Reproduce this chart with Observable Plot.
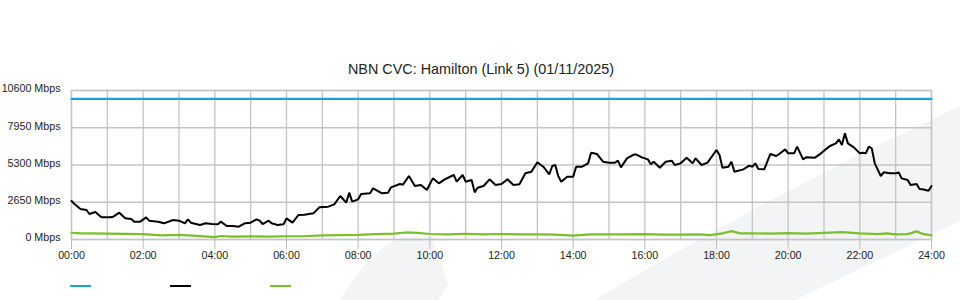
<!DOCTYPE html>
<html>
<head>
<meta charset="utf-8">
<script src="https://cdn.jsdelivr.net/npm/d3@7"></script>
<script src="https://cdn.jsdelivr.net/npm/@observablehq/plot@0.6"></script>
<style>
  html, body { margin: 0; padding: 0; background: #fff; }
  body { width: 960px; height: 300px; position: relative; overflow: hidden; font-family: "Liberation Sans", Arial, sans-serif; }
  #bg { position: absolute; left: 0; top: 0; z-index: 0; }
  #wrap { position: relative; z-index: 1; }
  #title { height: 80px; position: relative; }
  #title span { position: absolute; left: 0; width: 962px; top: 61px; text-align: center; font-size: 14.4px; line-height: 17px; color: #222; }
  #legend { height: 20px; position: relative; }
  #legend .sw { position: absolute; top: 5px; width: 21px; height: 2px; }
</style>
</head>
<body>
<svg id="bg" width="960" height="300" aria-hidden="true">
  <path d="M595,300 Q760,200 960,106 L960,221 L795,300 Z" fill="#f3f4f6"/>
  <path d="M340,300 Q370,250 402,237 L432,236 L448,284 L438,300 Z" fill="#f3f4f6"/>
</svg>
<div id="wrap">
  <div id="title"><span id="titleText"></span></div>
  <div id="chart"></div>
  <div id="legend"></div>
</div>
<script>
const chartTitle = "NBN CVC: Hamilton (Link 5) (01/11/2025)";

// x in minutes since midnight
const xTicks = [0, 120, 240, 360, 480, 600, 720, 840, 960, 1080, 1200, 1320, 1440];
const xTickLabels = ["00:00","02:00","04:00","06:00","08:00","10:00","12:00","14:00","16:00","18:00","20:00","22:00","24:00"];
const hourGrid = [0,60,120,180,240,300,360,420,480,540,600,660,720,780,840,900,960,1020,1080,1140,1200,1260,1320,1380,1440];
const yTicks = [0, 2650, 5300, 7950, 10600];
const yTickLabels = ["0 Mbps", "2650 Mbps", "5300 Mbps", "7950 Mbps", "10600 Mbps"];

const seriesNames = ["", "", ""];
const seriesColors = ["#1ba1e2", "#000000", "#7cbd2b"];

// capacity (blue)
const capacityMinutes = [0, 1440];
const capacityMbps = [10000, 10000];

// traffic (black)
const trafficMinutes = [0,5,15,25,30,40,50,65,70,80,90,100,105,115,125,130,145,155,170,180,190,195,200,215,225,235,245,250,260,270,280,290,300,310,315,320,330,335,345,355,360,370,380,390,405,415,430,440,450,460,465,470,480,485,500,505,520,530,535,550,555,565,575,585,595,605,615,625,640,645,655,660,670,675,680,690,700,
710,720,730,740,750,760,770,780,790,800,805,810,815,820,830,840,845,855,865,870,880,890,900,910,915,920,930,940,945,955,965,970,975,985,995,1005,1010,1020,1030,1040,1045,1055,1065,1080,1085,1090,1100,1105,1110,1125,1135,1140,1145,1150,1160,1170,1180,1185,1195,1200,1210,1215,1225,1230,1245,1255,1265,1270,1280,1285,1290,1295,1300,1310,1320,1325,1330,1335,1340,1345,1355,1360,1370,1380,1385,1390,1400,1405,1415,1420,1425,1435,1440];
const trafficMbps = [2740,2525,2170,2100,1814,1956,1577,1577,1624,1908,1505,1458,1268,1268,1577,1340,1268,1150,1387,1340,1150,1434,1197,1031,1150,1102,1078,1268,960,960,913,1150,1197,1434,1340,1102,1340,1150,1031,1078,1505,1197,1743,1766,1861,2288,2335,2501,3094,2620,3331,2691,2857,3236,3283,3639,3283,3331,3710,3947,3900,4517,3805,3876,3521,4351,3995,4280,4588,4114,4588,4114,4232,3355,3687,3805,4280,
3877,3947,4280,3877,3924,4707,4825,5489,5180,4635,5228,5299,4517,4114,4470,4470,5180,5180,5418,6176,6081,5536,5465,5465,5607,5133,5773,6010,6058,5844,5702,5346,5536,5109,5536,5607,5299,5418,5821,5418,5773,5299,5465,6366,6010,5109,5180,5536,4825,4991,5252,5180,5418,5015,4991,6081,5939,6081,6413,6129,6129,6603,5702,5844,5821,6129,6485,6651,6840,7125,6722,7552,6840,6556,6129,6176,6129,6603,6485,5418,4517,4778,4707,4707,4778,4351,4232,3877,3947,3592,3568,3473,3805];

// green series
const greenMinutes = [0,15,30,60,90,120,150,180,210,240,250,270,300,330,360,390,420,450,480,510,540,560,580,600,630,660,690,720,750,780,810,840,870,900,930,960,990,1020,1050,1070,1090,1105,1120,1140,1170,1200,1230,1260,1290,1320,1350,1365,1380,1400,1415,1425,1440];
const greenMbps = [480,440,430,420,400,380,300,330,260,170,250,200,220,210,230,230,300,310,330,380,420,500,470,390,370,410,360,390,360,370,340,280,360,360,360,380,350,350,370,310,430,600,440,440,420,460,420,470,520,430,380,440,360,380,580,400,290];

const toRows = (xs, ys) => xs.map((t, i) => ({t, v: ys[i]}));
const capacity = toRows(capacityMinutes, capacityMbps);
const traffic = toRows(trafficMinutes, trafficMbps);
const green = toRows(greenMinutes, greenMbps);

document.getElementById("titleText").textContent = chartTitle;

const gridColor = "#c4c4c4";
const chart = Plot.plot({
  width: 960,
  height: 200,
  marginLeft: 71,
  marginRight: 29,
  marginTop: 10,
  marginBottom: 41,
  style: {background: "transparent", fontFamily: "'Liberation Sans', Arial, sans-serif", fontSize: "10.7px", color: "#222", overflow: "visible"},
  x: {domain: [0, 1440], label: null},
  y: {domain: [0, 10600], label: null},
  marks: [
    Plot.gridX(hourGrid, {stroke: gridColor, strokeOpacity: 1, strokeWidth: 1.3}),
    Plot.gridY(yTicks, {stroke: gridColor, strokeOpacity: 1, strokeWidth: 1.3}),
    Plot.frame({stroke: gridColor, strokeWidth: 1.3}),
    Plot.axisX({ticks: xTicks, tickFormat: d => xTickLabels[xTicks.indexOf(d)], tickSize: 10, tickPadding: 2, stroke: "#bbb", fill: "#222", label: null}),
    Plot.axisY({ticks: yTicks, tickFormat: d => yTickLabels[yTicks.indexOf(d)], tickSize: 0, tickPadding: 11, dy: -1.5, fill: "#222", label: null}),
    Plot.line(capacity, {x: "t", y: "v", stroke: seriesColors[0], strokeWidth: 2.2}),
    Plot.line(green, {x: "t", y: "v", stroke: seriesColors[2], strokeWidth: 2.2}),
    Plot.line(traffic, {x: "t", y: "v", stroke: seriesColors[1], strokeWidth: 2, strokeLinejoin: "miter"})
  ]
});
document.getElementById("chart").appendChild(chart);

const legend = document.getElementById("legend");
seriesColors.forEach((c, i) => {
  const sw = document.createElement("div");
  sw.className = "sw";
  sw.style.left = (70 + i * 100) + "px";
  sw.style.background = c;
  sw.title = seriesNames[i];
  legend.appendChild(sw);
});
</script>
</body>
</html>
